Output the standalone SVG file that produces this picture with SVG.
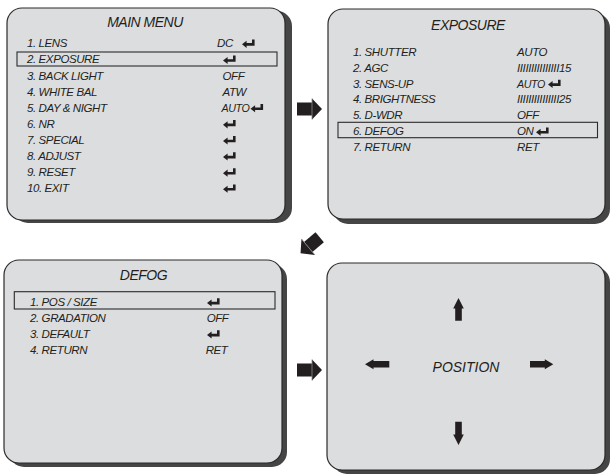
<svg xmlns="http://www.w3.org/2000/svg" xmlns:xlink="http://www.w3.org/1999/xlink" width="610" height="475" viewBox="0 0 610 475">
<style>
  .shadow { fill: #454545; }
  .panel { fill: #dcdddf; stroke: #2b2b2b; stroke-width: 1.2; }
  .t { font-family: "Liberation Sans", Arial, sans-serif; font-style: italic; font-size: 11.5px; letter-spacing: -0.4px; fill: #231f20; }
  .title { font-family: "Liberation Sans", Arial, sans-serif; font-style: italic; font-size: 14px; letter-spacing: -0.5px; fill: #231f20; text-anchor: middle; }
  .pos { font-family: "Liberation Sans", Arial, sans-serif; font-style: italic; font-size: 14px; fill: #231f20; text-anchor: middle; }
  .sel { fill: none; stroke: #2b2b2b; stroke-width: 1.1; }
  .arr { fill: #231f20; }
</style>
<defs>
  <path id="ret" d="M10 0 H12.6 V6.2 H4.6 V8.4 L0 4.85 L4.6 1.3 V3.6 H10 Z" fill="#231f20"/>
  <g id="bigarrow">
    <rect x="-12" y="-6.5" width="15" height="13" fill="#231f20"/>
    <polygon points="3,-10.5 13,0 3,10.5" fill="#231f20"/>
    <line x1="3" y1="-10.5" x2="3" y2="10.5" stroke="#8a8a8a" stroke-width="0.8"/>
  </g>
</defs>

<g id="main-menu">
  <rect class="shadow" x="13" y="11" width="279" height="212" rx="15"/>
  <rect class="panel" x="7" y="8" width="278" height="212" rx="15"/>
  <text class="title" x="145" y="27.3">MAIN MENU</text>
  <rect class="sel" x="17" y="52" width="260" height="14"/>
  <text class="t" x="27" y="47.3">1. LENS</text>
  <text class="t" x="27" y="63.4">2. EXPOSURE</text>
  <text class="t" x="27" y="79.5">3. BACK LIGHT</text>
  <text class="t" x="27" y="95.6">4. WHITE BAL</text>
  <text class="t" x="27" y="111.7">5. DAY &amp; NIGHT</text>
  <text class="t" x="27" y="127.8">6. NR</text>
  <text class="t" x="27" y="143.9">7. SPECIAL</text>
  <text class="t" x="27" y="160">8. ADJUST</text>
  <text class="t" x="27" y="176.1">9. RESET</text>
  <text class="t" x="27" y="192.2">10. EXIT</text>
  <text class="t" x="217" y="47.3">DC</text>
  <use xlink:href="#ret" x="242" y="39.5"/>
  <use xlink:href="#ret" x="223" y="55.6"/>
  <text class="t" x="222.5" y="79.5">OFF</text>
  <text class="t" x="222.5" y="95.6">ATW</text>
  <text class="t" x="221.5" y="111.7" textLength="28" lengthAdjust="spacingAndGlyphs">AUTO</text>
  <use xlink:href="#ret" x="250.5" y="103.9"/>
  <use xlink:href="#ret" x="223" y="120"/>
  <use xlink:href="#ret" x="223" y="136.1"/>
  <use xlink:href="#ret" x="223" y="152.2"/>
  <use xlink:href="#ret" x="223" y="168.3"/>
  <use xlink:href="#ret" x="223" y="184.4"/>
</g>

<g id="exposure">
  <rect class="shadow" x="333" y="13" width="277" height="211" rx="15"/>
  <rect class="panel" x="328" y="9" width="277" height="210" rx="15"/>
  <text class="title" x="468" y="30">EXPOSURE</text>
  <rect class="sel" x="338" y="122.3" width="259.5" height="15.4"/>
  <text class="t" x="353" y="55.7">1. SHUTTER</text>
  <text class="t" x="353" y="71.6">2. AGC</text>
  <text class="t" x="353" y="87.5">3. SENS-UP</text>
  <text class="t" x="353" y="103.4">4. BRIGHTNESS</text>
  <text class="t" x="353" y="119.3">5. D-WDR</text>
  <text class="t" x="353" y="135.2">6. DEFOG</text>
  <text class="t" x="353" y="151.1">7. RETURN</text>
  <text class="t" x="517" y="55.7">AUTO</text>
  <text class="t" x="517" y="71.6">IIIIIIIIIIIIIII15</text>
  <text class="t" x="517" y="87.5" textLength="28" lengthAdjust="spacingAndGlyphs">AUTO</text>
  <use xlink:href="#ret" x="548" y="79.7"/>
  <text class="t" x="517" y="103.4">IIIIIIIIIIIIIII25</text>
  <text class="t" x="517" y="119.3">OFF</text>
  <text class="t" x="517" y="135.2">ON</text>
  <use xlink:href="#ret" x="536" y="127.4"/>
  <text class="t" x="517" y="151.1">RET</text>
</g>

<g id="defog">
  <rect class="shadow" x="9" y="264" width="278" height="203" rx="15"/>
  <rect class="panel" x="4" y="260" width="278" height="203" rx="15"/>
  <text class="title" x="143.5" y="280">DEFOG</text>
  <rect class="sel" x="14.3" y="291.7" width="260.7" height="17.3"/>
  <text class="t" x="30" y="306">1. POS / SIZE</text>
  <text class="t" x="30" y="322">2. GRADATION</text>
  <text class="t" x="30" y="338">3. DEFAULT</text>
  <text class="t" x="30" y="354">4. RETURN</text>
  <use xlink:href="#ret" x="207" y="298.2"/>
  <text class="t" x="206.7" y="322">OFF</text>
  <use xlink:href="#ret" x="207" y="330.2"/>
  <text class="t" x="205.7" y="354">RET</text>
</g>

<g id="position">
  <rect class="shadow" x="332" y="267" width="278" height="207" rx="15"/>
  <rect class="panel" x="327" y="263" width="278" height="207" rx="15"/>
  <text class="pos" x="466" y="371.7">POSITION</text>
  <polygon class="arr" points="458.5,298 463.8,308.5 461.8,308.5 461.8,320.7 455.2,320.7 455.2,308.5 453.2,308.5"/>
  <polygon class="arr" points="458.5,445 463.8,434.5 461.8,434.5 461.8,421.7 455.2,421.7 455.2,434.5 453.2,434.5"/>
  <polygon class="arr" points="365,364.2 373.5,359.2 373.5,361 389.3,361 389.3,367.4 373.5,367.4 373.5,369.2"/>
  <polygon class="arr" points="553.3,364.2 544.8,359.2 544.8,361 530,361 530,367.4 544.8,367.4 544.8,369.2"/>
</g>

<g id="connectors">
  <use xlink:href="#bigarrow" transform="translate(309,109)"/>
  <use xlink:href="#bigarrow" transform="translate(309,370)"/>
  <use xlink:href="#bigarrow" transform="translate(310.5,245) rotate(140)"/>
</g>
</svg>
